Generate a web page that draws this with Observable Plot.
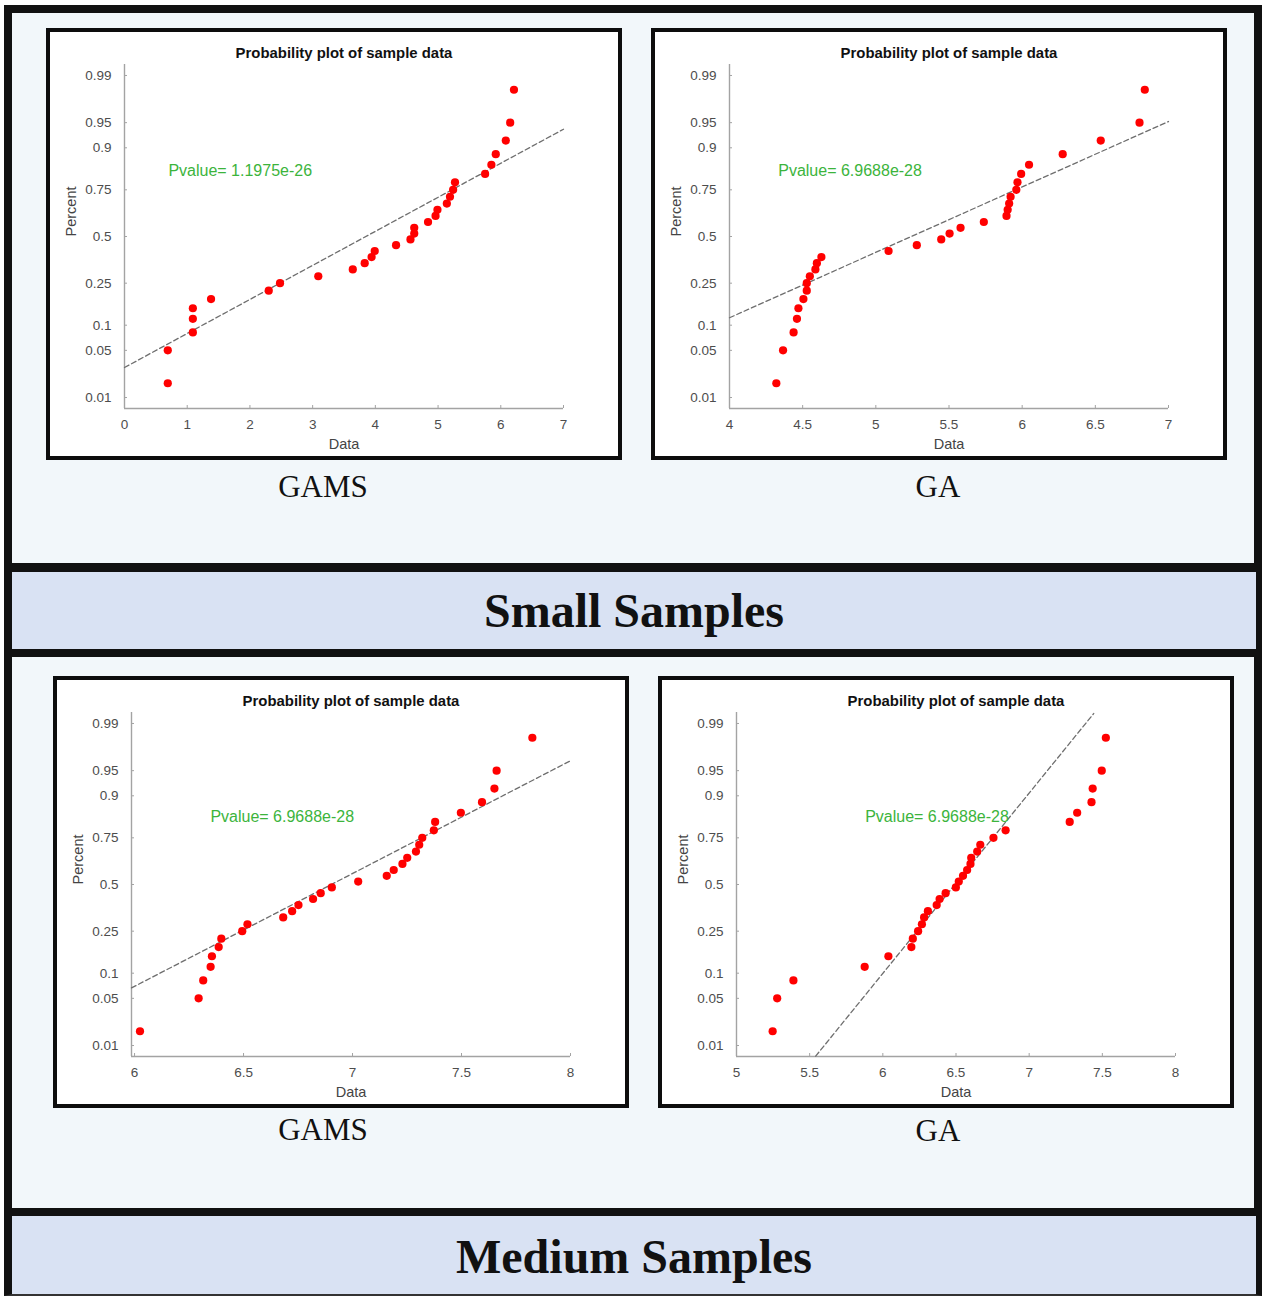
<!DOCTYPE html>
<html>
<head>
<meta charset="utf-8">
<script src="https://cdn.jsdelivr.net/npm/d3@7"></script>
<script src="https://cdn.jsdelivr.net/npm/@observablehq/plot@0.6"></script>
<style>
  html, body { margin: 0; padding: 0; }
  body { width: 1262px; height: 1296px; position: relative; overflow: hidden; background: #ffffff; }
  .abs { position: absolute; box-sizing: border-box; }
  .frame { left: 4px; top: 5px; width: 1258px; height: 1291px; border: 8px solid #111; border-bottom: 2px solid #333; background: #f2f7fa; }
  .band { left: 12px; width: 1244px; background: #d9e2f3; border-top: 9px solid #111; }
  .bandtext { left: 12px; width: 1244px; text-align: center; font-family: "Liberation Serif", "Times New Roman", serif; font-weight: bold; font-size: 48px; line-height: 48px; color: #111; }
  .panel { width: 576px; height: 432px; border: 4px solid #0d0d0d; background: #fff; }
  .panel svg { display: block; }
  .cap { width: 300px; text-align: center; font-family: "Liberation Serif", "Times New Roman", serif; font-size: 31px; line-height: 31px; color: #111; }
</style>
</head>
<body>
<div class="abs frame"></div>
<div class="abs band" style="top:563px;height:94px;border-bottom:8px solid #111;"></div>
<div class="abs bandtext" style="top:587px;">Small Samples</div>
<div class="abs band" style="top:1208px;height:86px;border-top-width:8px;"></div>
<div class="abs bandtext" style="top:1233px;">Medium Samples</div>

<div class="abs panel" id="p1" style="left:46px;top:28px;"></div>
<div class="abs panel" id="p2" style="left:651px;top:28px;"></div>
<div class="abs panel" id="p3" style="left:53px;top:676px;"></div>
<div class="abs panel" id="p4" style="left:658px;top:676px;"></div>

<div class="abs cap" style="left:173px;top:471px;">GAMS</div>
<div class="abs cap" style="left:788px;top:471px;">GA</div>
<div class="abs cap" style="left:173px;top:1114px;">GAMS</div>
<div class="abs cap" style="left:788px;top:1115px;">GA</div>

<script>
// ---------- data ----------
// plotted percent (probability) of each ordered sample, shared by all four plots (30 samples each)
const percent = [0.017, 0.05, 0.083, 0.117, 0.15, 0.183, 0.217, 0.25, 0.283, 0.317,
                 0.35, 0.383, 0.417, 0.45, 0.483, 0.517, 0.55, 0.583, 0.617, 0.65,
                 0.683, 0.717, 0.75, 0.783, 0.817, 0.85, 0.883, 0.917, 0.95, 0.983];

const gamsSmall = [0.69, 0.69, 1.09, 1.09, 1.09, 1.38, 2.30, 2.48, 3.09, 3.64,
                   3.83, 3.94, 3.99, 4.33, 4.56, 4.62, 4.62, 4.84, 4.96, 4.99,
                   5.14, 5.19, 5.24, 5.27, 5.75, 5.85, 5.92, 6.08, 6.15, 6.21];
const gaSmall = [4.32, 4.366, 4.438, 4.461, 4.471, 4.505, 4.528, 4.528, 4.549, 4.587,
                 4.597, 4.628, 5.087, 5.280, 5.447, 5.504, 5.579, 5.738, 5.893, 5.901,
                 5.911, 5.921, 5.960, 5.968, 5.993, 6.047, 6.277, 6.537, 6.802, 6.838];
const gamsMedium = [6.025, 6.294, 6.315, 6.349, 6.355, 6.386, 6.398, 6.494, 6.518, 6.682,
                    6.723, 6.752, 6.819, 6.854, 6.905, 7.026, 7.157, 7.189, 7.229, 7.251,
                    7.291, 7.306, 7.320, 7.373, 7.379, 7.497, 7.594, 7.651, 7.661, 7.825];
const gaMedium = [5.247, 5.278, 5.389, 5.876, 6.038, 6.195, 6.205, 6.241, 6.267, 6.282,
                  6.308, 6.368, 6.388, 6.429, 6.499, 6.519, 6.548, 6.576, 6.599, 6.604,
                  6.645, 6.666, 6.756, 6.839, 7.277, 7.328, 7.426, 7.434, 7.496, 7.524];

// fitted normal reference lines: end points (data value, normal quantile)
const fitGamsSmall  = {x: [0, 7],         z: [-1.893, 1.550]};
const fitGaSmall    = {x: [4, 7],         z: [-1.174, 1.661]};
const fitGamsMedium = {x: [5.986, 8],     z: [-1.494, 1.788]};
const fitGaMedium   = {x: [5.541, 7.441], z: [-2.48, 2.47]};

// p-value annotations
const pvalueText = ["Pvalue= 1.1975e-26", "Pvalue= 6.9688e-28", "Pvalue= 6.9688e-28", "Pvalue= 6.9688e-28"];
const pvalueX = [0.70, 4.333, 6.348, 5.879];
const pvalueZ = [0.955, 0.955, 0.971, 0.971];

// axes
const yTickValues = [0.01, 0.05, 0.1, 0.25, 0.5, 0.75, 0.9, 0.95, 0.99];
const yTickLabels = ["0.01", "0.05", "0.1", "0.25", "0.5", "0.75", "0.9", "0.95", "0.99"];
const xTicksGamsSmall = [0, 1, 2, 3, 4, 5, 6, 7];
const xTicksGaSmall = [4, 4.5, 5, 5.5, 6, 6.5, 7];
const xTicksGamsMedium = [6, 6.5, 7, 7.5, 8];
const xTicksGaMedium = [5, 5.5, 6, 6.5, 7, 7.5, 8];
const xDomains = [[0, 7], [4, 7], [5.986, 8], [5, 8]];
const zLimit = 2.485;

const titleText = "Probability plot of sample data";

// ---------- normal quantile (probit) for the probability-paper scale ----------
function probit(p) {
  const a = [-3.969683028665376e+01, 2.209460984245205e+02, -2.759285104469687e+02, 1.383577518672690e+02, -3.066479806614716e+01, 2.506628277459239e+00];
  const b = [-5.447609879822406e+01, 1.615858368580409e+02, -1.556989798598866e+02, 6.680131188771972e+01, -1.328068155288572e+01];
  const c = [-7.784894002430293e-03, -3.223964580411365e-01, -2.400758277161838e+00, -2.549732539343734e+00, 4.374664141464968e+00, 2.938163982698783e+00];
  const d = [7.784695709041462e-03, 3.224671290700398e-01, 2.445134137142996e+00, 3.754408661907416e+00];
  const pl = 0.02425, ph = 1 - pl;
  let q, r;
  if (p < pl) {
    q = Math.sqrt(-2 * Math.log(p));
    return (((((c[0]*q+c[1])*q+c[2])*q+c[3])*q+c[4])*q+c[5]) / ((((d[0]*q+d[1])*q+d[2])*q+d[3])*q+1);
  }
  if (p <= ph) {
    q = p - 0.5; r = q * q;
    return (((((a[0]*r+a[1])*r+a[2])*r+a[3])*r+a[4])*r+a[5])*q / (((((b[0]*r+b[1])*r+b[2])*r+b[3])*r+b[4])*r+1);
  }
  q = Math.sqrt(-2 * Math.log(1 - p));
  return -(((((c[0]*q+c[1])*q+c[2])*q+c[3])*q+c[4])*q+c[5]) / ((((d[0]*q+d[1])*q+d[2])*q+d[3])*q+1);
}

const yTickZ = yTickValues.map(probit);
function yLabel(z) {
  const i = yTickZ.findIndex(t => Math.abs(t - z) < 1e-9);
  return i >= 0 ? yTickLabels[i] : "";
}

const W = 568, H = 424, ML = 74, MR = 55, MT = 32, MB = 48;
const axisColor = "#a3a3a3";
const labelColor = "#4d4d4d";

function panel(values, fit, xTicks, xDomain, k) {
  const pts = values.map((x, i) => ({x, z: probit(percent[i])}));
  const fitPts = fit.x.map((x, i) => ({x, z: fit.z[i]}));
  const pv = [{x: pvalueX[k], z: pvalueZ[k], t: pvalueText[k]}];
  const innerW = W - ML - MR, innerH = H - MT - MB;
  return Plot.plot({
    width: W, height: H,
    marginLeft: ML, marginRight: MR, marginTop: MT, marginBottom: MB,
    x: {domain: xDomain},
    y: {domain: [-zLimit, zLimit]},
    style: {fontFamily: "'Liberation Sans', Arial, sans-serif", background: "#fff", overflow: "visible"},
    marks: [
      Plot.ruleX([xDomain[0]], {stroke: axisColor, strokeWidth: 1.4}),
      Plot.ruleY([-zLimit], {stroke: axisColor, strokeWidth: 1.4}),
      Plot.tickY(yTickZ, {y: d => d, insetRight: innerW - 3, stroke: axisColor, strokeWidth: 1}),
      Plot.tickX(xTicks, {x: d => d, insetTop: innerH - 3, stroke: axisColor, strokeWidth: 1}),
      Plot.axisY(yTickZ, {tickSize: 0, tickPadding: 13, tickFormat: yLabel, fontSize: 13.5, fill: labelColor, label: null}),
      Plot.axisX(xTicks, {tickSize: 0, tickPadding: 11, tickFormat: d => String(d), fontSize: 13.5, fill: labelColor, label: null}),
      Plot.line(fitPts, {x: "x", y: "z", stroke: "#6e6e6e", strokeWidth: 1.3, strokeDasharray: "5,3"}),
      Plot.dot(pts, {x: "x", y: "z", r: 4.1, fill: "#ff0000", stroke: "none"}),
      Plot.text(pv, {x: "x", y: "z", text: "t", textAnchor: "start", fill: "#3cb43c", fontSize: 16}),
      Plot.text([titleText], {frameAnchor: "top", dy: -7, lineAnchor: "bottom", fontWeight: "bold", fontSize: 14.9, fill: "#111"}),
      Plot.text(["Data"], {frameAnchor: "bottom", dy: 40, lineAnchor: "bottom", fontSize: 14.5, fill: "#444"}),
      Plot.text(["Percent"], {frameAnchor: "left", dx: -53, rotate: -90, fontSize: 14.5, fill: "#444"})
    ]
  });
}

document.getElementById("p1").appendChild(panel(gamsSmall, fitGamsSmall, xTicksGamsSmall, xDomains[0], 0));
document.getElementById("p2").appendChild(panel(gaSmall, fitGaSmall, xTicksGaSmall, xDomains[1], 1));
document.getElementById("p3").appendChild(panel(gamsMedium, fitGamsMedium, xTicksGamsMedium, xDomains[2], 2));
document.getElementById("p4").appendChild(panel(gaMedium, fitGaMedium, xTicksGaMedium, xDomains[3], 3));
</script>
</body>
</html>
